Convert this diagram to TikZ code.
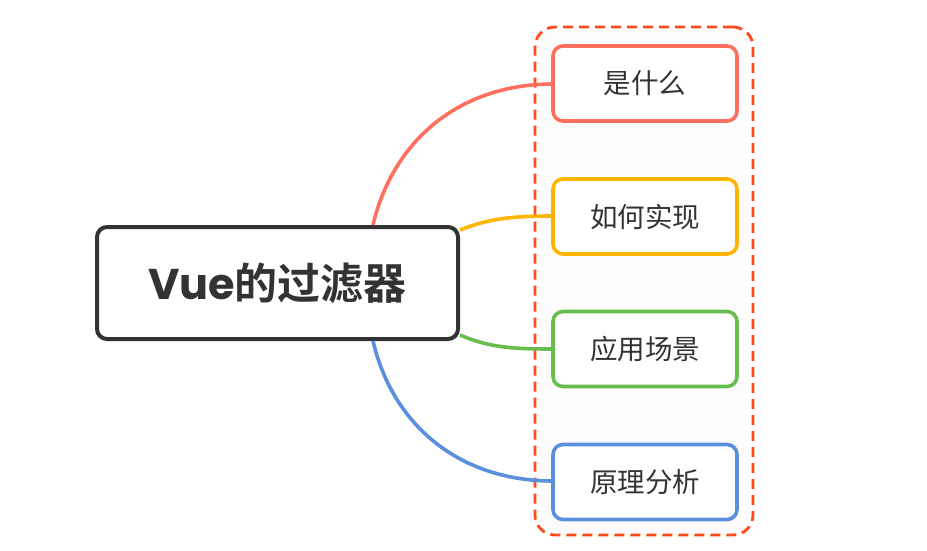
\documentclass[tikz,border=0pt]{standalone}
\usepackage{fontspec}
\setmainfont{Noto Sans CJK SC}
\newfontfamily\cjkbold{Noto Sans CJK SC Bold}
\newfontfamily\latbold{Poppins}[UprightFont=* Bold]
\definecolor{txt}{HTML}{333333}
\definecolor{cred}{HTML}{FF6F5E}
\definecolor{cyel}{HTML}{FFB400}
\definecolor{cgrn}{HTML}{67BE4E}
\definecolor{cblu}{HTML}{5A8FDB}
\definecolor{cdash}{HTML}{FF4A1C}
\begin{document}
\begin{tikzpicture}[x=1pt,y=-1pt,
  rootbox/.style={draw=txt,line width=4pt,rounded corners=10pt,fill=white,minimum width=361pt,minimum height=112pt,inner sep=0pt,text=txt,font=\cjkbold\fontsize{43}{46}\selectfont},
  childbox/.style={line width=3.6pt,rounded corners=10pt,fill=white,minimum width=184pt,minimum height=75pt,inner sep=0pt,text=txt,font=\fontsize{27.5}{30}\selectfont},
  conn/.style={line width=3.6pt}]
\useasboundingbox (0,0) rectangle (927,550);
\fill[white] (0,0) rectangle (927,550);
\node[draw=cdash,dash pattern=on 10pt off 6pt,line width=2.8pt,rounded corners=20pt,fill={rgb,255:red,252;green,252;blue,252},minimum width=218pt,minimum height=508pt] (frame) at (644,281) {};
\node[rootbox] (root) at (277.5,283) {{\latbold Vue}的过滤器};
\coordinate (rt) at ([xshift=95.5pt]root.north);
\coordinate (rb) at ([xshift=95.5pt]root.south);
\coordinate (ry) at ([yshift=-5pt]root.north east);
\coordinate (rg) at ([yshift=6pt]root.south east);
\draw[conn,cred] (rt) .. controls (393,140) and (460,84) .. (553,84) coordinate (e1);
\draw[conn,cyel] (ry) .. controls (490,218) and (515,216) .. (553,216) coordinate (e2);
\draw[conn,cgrn] (rg) .. controls (490,348) and (515,349) .. (553,349) coordinate (e3);
\draw[conn,cblu] (rb) .. controls (393,426) and (460,481) .. (553,481) coordinate (e4);
\node[childbox,draw=cred] (c1) at (645,83.5) {是什么};
\node[childbox,draw=cyel] (c2) at (645,216.5) {如何实现};
\node[childbox,draw=cgrn] (c3) at (645,349) {应用场景};
\node[childbox,draw=cblu] (c4) at (645,482) {原理分析};
\end{tikzpicture}
\end{document}
